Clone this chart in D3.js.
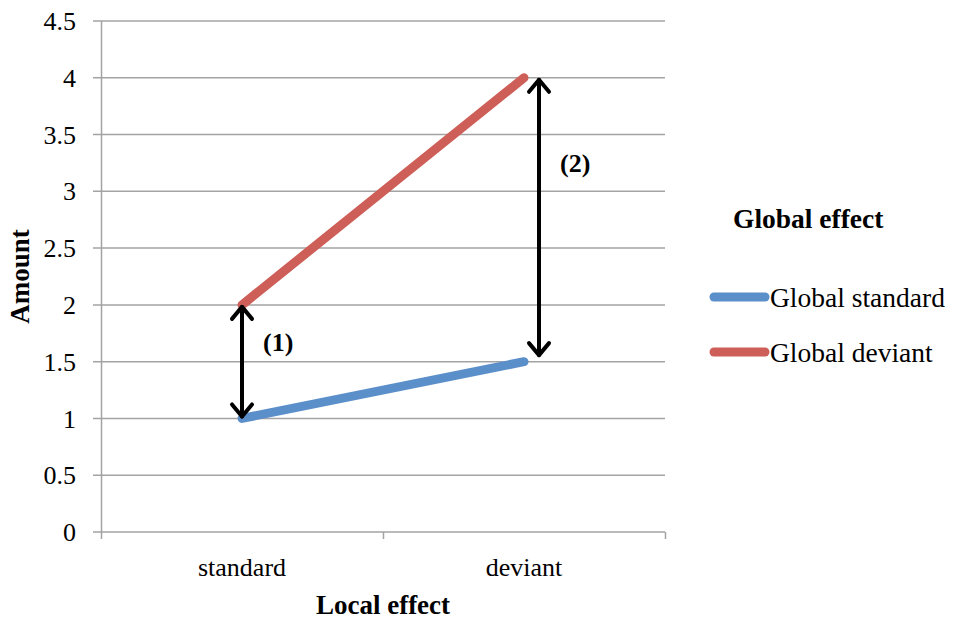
<!DOCTYPE html>
<html>
<head>
<meta charset="utf-8">
<script src="https://cdn.jsdelivr.net/npm/d3@7"></script>
<style>
  body { margin: 0; background: #fff; }
  text { font-family: "Liberation Serif", "DejaVu Serif", serif; fill: #000; }
</style>
</head>
<body>
<svg id="chart" width="953" height="619"></svg>
<script>
// data
var categories = ["standard", "deviant"];
var seriesNames = ["Global standard", "Global deviant"];
var globalStandard = [1, 1.5];
var globalDeviant = [2, 4];
var yTicks = [0, 0.5, 1, 1.5, 2, 2.5, 3, 3.5, 4, 4.5];
var colors = ["#5b8fca", "#cd5f58"];

// annotation arrows: label, category, from value, to value
var arrowLabels = ["(1)", "(2)"];
var arrowCats = ["standard", "deviant"];
var arrowFrom = [2, 4];
var arrowTo = [1, 1.54];

var svg = d3.select("#chart");

var x = d3.scaleBand()
    .domain(categories)
    .range([101, 665]);

var y = d3.scaleLinear()
    .domain([0, 4.5])
    .range([532, 21]);

var grid = "#a3a3a3";

// gridlines + y labels
svg.append("g")
  .selectAll("line")
  .data(yTicks)
  .enter().append("line")
    .attr("x1", 93)
    .attr("x2", 665)
    .attr("y1", function(d) { return y(d); })
    .attr("y2", function(d) { return y(d); })
    .attr("stroke", grid)
    .attr("stroke-width", 1.5);

svg.append("g")
  .selectAll("text")
  .data(yTicks)
  .enter().append("text")
    .attr("x", 76)
    .attr("y", function(d) { return y(d); })
    .attr("dy", "0.35em")
    .attr("text-anchor", "end")
    .style("font-size", "26px")
    .text(function(d) { return String(d); });

// y axis line
svg.append("line")
    .attr("x1", 101.5).attr("x2", 101.5)
    .attr("y1", y(4.5)).attr("y2", y(0))
    .attr("stroke", grid)
    .attr("stroke-width", 1.5);

// x axis ticks at band edges
var edges = categories.map(function(c) { return x(c); }).concat([x.range()[1]]);
svg.append("g")
  .selectAll("line")
  .data(edges)
  .enter().append("line")
    .attr("x1", function(d) { return d + 0.5; })
    .attr("x2", function(d) { return d + 0.5; })
    .attr("y1", y(0))
    .attr("y2", y(0) + 7)
    .attr("stroke", grid)
    .attr("stroke-width", 1.5);

svg.append("g")
  .selectAll("text")
  .data(categories)
  .enter().append("text")
    .attr("x", function(d) { return x(d) + x.bandwidth() / 2; })
    .attr("y", 567)
    .attr("dy", "0.35em")
    .attr("text-anchor", "middle")
    .style("font-size", "26px")
    .text(function(d) { return d; });

// axis titles
svg.append("text")
    .attr("x", (x.range()[0] + x.range()[1]) / 2)
    .attr("y", 614)
    .attr("text-anchor", "middle")
    .style("font-size", "27px")
    .style("font-weight", "bold")
    .text("Local effect");

svg.append("text")
    .attr("transform", "translate(20," + (y(0) + y(4.5)) / 2 + ") rotate(-90)")
    .attr("dy", "0.35em")
    .attr("text-anchor", "middle")
    .style("font-size", "27px")
    .style("font-weight", "bold")
    .text("Amount");

// series lines
var line = d3.line()
    .x(function(d, i) { return x(categories[i]) + x.bandwidth() / 2; })
    .y(function(d) { return y(d); });

[globalStandard, globalDeviant].forEach(function(vals, i) {
  svg.append("path")
      .datum(vals)
      .attr("d", line)
      .attr("fill", "none")
      .attr("stroke", colors[i])
      .attr("stroke-width", 9)
      .attr("stroke-linecap", "round");
});

// annotation arrows
arrowLabels.forEach(function(lab, i) {
  var ax = x(arrowCats[i]) + x.bandwidth() / 2 + (i === 0 ? 0 : 15);
  var y1 = y(arrowFrom[i]) + 2, y2 = y(arrowTo[i]) - 2;
  var g = svg.append("g")
      .attr("fill", "none")
      .attr("stroke", "#000")
      .attr("stroke-width", 4)
      .attr("stroke-linecap", "round")
      .attr("stroke-linejoin", "round");
  g.append("line").attr("x1", ax).attr("x2", ax).attr("y1", y1).attr("y2", y2);
  g.append("path").attr("d", "M" + (ax - 10) + "," + (y1 + 12) + "L" + ax + "," + y1 + "L" + (ax + 10) + "," + (y1 + 12));
  g.append("path").attr("d", "M" + (ax - 10) + "," + (y2 - 12) + "L" + ax + "," + y2 + "L" + (ax + 10) + "," + (y2 - 12));
  svg.append("text")
      .attr("x", ax + 21)
      .attr("y", (y1 + y2) / 2 + (i === 0 ? -20 : -55))
      .attr("dy", "0.35em")
      .style("font-size", "26px")
      .style("font-weight", "bold")
      .text(lab);
});

// legend
svg.append("text")
    .attr("x", 733)
    .attr("y", 218)
    .attr("dy", "0.35em")
    .style("font-size", "27.5px")
    .style("font-weight", "bold")
    .text("Global effect");

var leg = svg.append("g")
  .selectAll("g")
  .data(seriesNames)
  .enter().append("g")
    .attr("transform", function(d, i) { return "translate(0," + (297 + i * 55) + ")"; });

leg.append("line")
    .attr("x1", 714).attr("x2", 765)
    .attr("stroke", function(d, i) { return colors[i]; })
    .attr("stroke-width", 9)
    .attr("stroke-linecap", "round");

leg.append("text")
    .attr("x", 770)
    .attr("dy", "0.35em")
    .style("font-size", "27.5px")
    .text(function(d) { return d; });
</script>
</body>
</html>
